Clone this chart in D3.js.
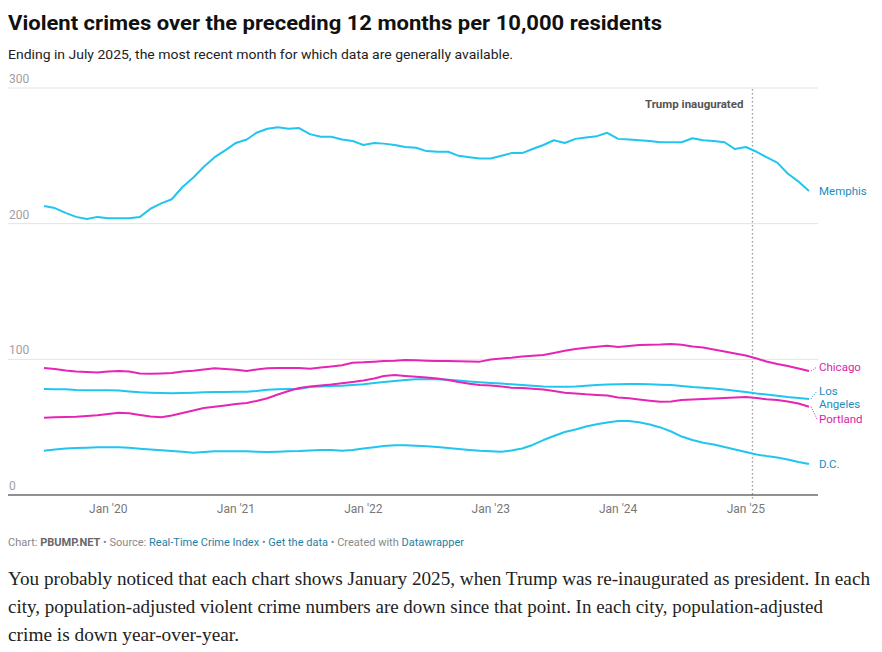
<!DOCTYPE html>
<html>
<head>
<meta charset="utf-8">
<script src="https://cdn.jsdelivr.net/npm/d3@7"></script>
<style>
  body { margin: 0; background: #fff; }
  svg { display: block; }
</style>
</head>
<body>
<svg id="plot" width="882" height="652"></svg>
<script>
// monthly, Jul 2019 .. Jul 2025
const months = d3.timeMonth.range(new Date(2019, 6, 1), new Date(2025, 7, 1));

const memphis = [213, 211.5, 208, 205, 203.5, 205, 204, 204, 204, 205, 211, 215, 218, 227, 234, 242, 249, 254, 259.5, 262, 267, 270, 271, 270, 270.5,
  266, 264, 264, 262, 261, 258, 259.5, 259, 258, 256.5, 256, 253.5, 253, 253, 250, 249, 248, 248, 250, 252, 252, 255, 258, 261.5, 259.5, 262.5, 263.5, 264.5, 267, 262.5,
  262, 261.5, 261, 260, 260, 260, 263, 261.5, 261, 260, 255, 256.5, 253, 249, 245, 237, 231, 224];
const chicago = [93.6, 92.9, 91.8, 91, 90.7, 90.3, 91, 91.4, 91, 89.6, 89.4, 89.6, 89.9, 91, 91.6, 92.5, 93.4, 92.9, 92.4, 91.4, 92.5, 93.4, 93.6, 93.6, 93.6,
  93.1, 94, 94.7, 95.6, 97.5, 97.8, 98.3, 98.8, 99, 99.5, 99.3, 99, 98.8, 98.8, 98.6, 98.4, 98.3, 99.9, 100.6, 101.2, 102.1, 102.7, 103.2, 104.7, 106.4, 107.6, 108.5, 109.3, 110, 109.1,
  109.8, 110.6, 110.8, 110.9, 111.3, 110.8, 109.5, 108.7, 107.2, 105.8, 104.3, 102.8, 100.6, 98.4, 96.6, 95.1, 93.2, 91.4];
const losAngeles = [78.1, 77.9, 77.9, 77.4, 77.2, 77.2, 77.2, 77, 76.3, 75.7, 75.4, 75.2, 75, 75.2, 75.4, 75.7, 75.9, 75.9, 76.1, 76.1, 76.7, 77.6, 77.9, 78.1, 78.1,
  79.6, 80, 80.3, 80.6, 81.1, 81.6, 82.6, 83.3, 84, 84.8, 85.3, 85.3, 85.3, 85, 84.4, 83.7, 83.1, 82.6, 82.2, 81.6, 81.1, 80.6, 80, 79.8, 79.8, 80, 80.5, 81.1, 81.4, 81.6,
  81.8, 81.8, 81.6, 81.3, 81.1, 80.3, 79.6, 79.1, 78.5, 77.8, 76.9, 75.9, 74.8, 74.1, 73.2, 72.2, 71.5, 70.8];
const portland = [57, 57.3, 57.5, 57.7, 58.2, 58.7, 59.7, 60.6, 60.2, 59, 57.9, 57.3, 58.6, 60.4, 62.3, 64.1, 65.1, 66, 67.1, 67.8, 69.3, 71.3, 74.1, 76.7, 78.9,
  80, 80.7, 81.4, 82.4, 83.3, 84.4, 85.9, 87.7, 88.4, 87.8, 87.2, 86.6, 85.9, 84.8, 83.3, 82, 81.1, 80.7, 80, 79.1, 78.9, 78.3, 77.8, 76.7, 75.4, 74.8, 74.2, 73.8, 73.3, 71.9,
  71.3, 70.4, 69.5, 68.8, 68.9, 70, 70.4, 70.8, 71.1, 71.5, 71.9, 72.2, 71.5, 70.5, 70, 68.9, 67.4, 65.1];
const dc = [32.7, 33.5, 34.3, 34.6, 34.9, 35.2, 35.2, 35.2, 34.8, 34.1, 33.5, 32.9, 32.4, 31.9, 31.2, 31.7, 32.2, 32.2, 32.2, 32.2, 31.9, 31.7, 31.9, 32.2, 32.4,
  32.8, 33.2, 33.1, 32.7, 33.2, 34.3, 35.2, 36.1, 36.6, 36.6, 36.3, 35.9, 35.4, 34.6, 33.9, 33.2, 32.6, 32.2, 31.9, 32.8, 34.3, 36.9, 40.5, 43.5, 46.4, 48.3, 50.5, 52.1, 53.4, 54.5,
  54.5, 53.6, 52, 49.8, 46.8, 43.1, 40.5, 38.5, 37.2, 35.4, 33.5, 31.7, 29.9, 28.7, 27.6, 26.2, 24.3, 22.8];

const yTicks = [0, 100, 200, 300];
const xTicks = [2020, 2021, 2022, 2023, 2024, 2025];
const inauguration = new Date(2025, 0, 20);

const cyan = '#20c5f0';
const pink = '#e625b5';
const cyanText = '#1b8dbc';
const pinkText = '#d81ea6';

const series = [
  { name: ['Memphis'], values: memphis, color: cyan, text: cyanText, labelY: 191 },
  { name: ['Chicago'], values: chicago, color: pink, text: pinkText, labelY: 367 },
  { name: ['Los', 'Angeles'], values: losAngeles, color: cyan, text: cyanText, labelY: 391 },
  { name: ['Portland'], values: portland, color: pink, text: pinkText, labelY: 419 },
  { name: ['D.C.'], values: dc, color: cyan, text: cyanText, labelY: 464 }
];

const plot = d3.select('#plot');
const font = 'Roboto, "Noto Sans", sans-serif';

const gridLeft = 8, gridRight = 818;

const xScale = d3.scaleTime()
  .domain([months[0], months[months.length - 1]])
  .range([44, 809]);

const yScale = d3.scaleLinear()
  .domain([0, 300])
  .range([495, 88]);

function fit(sel, w) {
  const len = sel.node().getComputedTextLength();
  if (Math.abs(len - w) > 2) sel.attr('textLength', w).attr('lengthAdjust', 'spacingAndGlyphs');
}

// titles
plot.append('text')
  .attr('x', 8).attr('y', 30)
  .style('font-family', font).style('font-weight', 'bold').style('font-size', '21px')
  .attr('fill', '#111')
  .text('Violent crimes over the preceding 12 months per 10,000 residents')
  .call(fit, 654);

plot.append('text')
  .attr('x', 8).attr('y', 59)
  .style('font-family', font).style('font-size', '13.5px')
  .attr('fill', '#222')
  .text('Ending in July 2025, the most recent month for which data are generally available.')
  .call(fit, 505);

// grid + y labels
const yAxis = plot.append('g').classed('yAxis', true);
yAxis.selectAll('line')
  .data(yTicks.filter(d => d > 0))
  .join('line')
  .attr('x1', gridLeft).attr('x2', gridRight)
  .attr('y1', d => yScale(d)).attr('y2', d => yScale(d))
  .attr('stroke', '#e3e3e3').attr('stroke-width', 1);

yAxis.selectAll('text')
  .data(yTicks)
  .join('text')
  .attr('x', 9).attr('y', d => yScale(d) - 5)
  .style('font-family', font).style('font-size', '12px')
  .attr('fill', '#a0a0a0')
  .text(d => d);

// inauguration marker
plot.append('line')
  .attr('x1', xScale(inauguration)).attr('x2', xScale(inauguration))
  .attr('y1', 89).attr('y2', 499)
  .attr('stroke', '#999').attr('stroke-width', 1.3)
  .attr('stroke-dasharray', '1.5,2.5');

plot.append('text')
  .attr('x', xScale(inauguration) - 9).attr('y', 108)
  .attr('text-anchor', 'end')
  .style('font-family', font).style('font-weight', 'bold').style('font-size', '11.5px')
  .attr('fill', '#555')
  .text('Trump inaugurated');

// x axis
plot.append('line')
  .attr('x1', gridLeft).attr('x2', gridRight)
  .attr('y1', yScale(0)).attr('y2', yScale(0))
  .attr('stroke', '#222').attr('stroke-width', 1.2);

plot.append('g')
  .classed('xAxis', true)
  .selectAll('text')
  .data(xTicks)
  .join('text')
  .attr('x', d => xScale(new Date(d, 0, 1)))
  .attr('y', 513)
  .attr('text-anchor', 'middle')
  .style('font-family', font).style('font-size', '12px')
  .attr('fill', '#777')
  .text(d => `Jan '${String(d).slice(2)}`);

// lines
const line = d3.line()
  .x((d, i) => xScale(months[i]))
  .y(d => yScale(d));

const lines = plot.append('g');
series.forEach(s => {
  lines.append('path')
    .attr('d', line(s.values))
    .attr('fill', 'none')
    .attr('stroke', s.color)
    .attr('stroke-width', 2)
    .attr('stroke-linejoin', 'round');
});

// labels with small connectors
const lastX = xScale(months[months.length - 1]);
series.forEach(s => {
  const endY = yScale(s.values[s.values.length - 1]);
  if (Math.abs(endY - s.labelY) > 3) {
    plot.append('line')
      .attr('x1', lastX + 2).attr('x2', lastX + 8)
      .attr('y1', endY).attr('y2', s.labelY)
      .attr('stroke', s.text).attr('stroke-width', 1)
      .attr('stroke-dasharray', '1,1.5');
  }
  const t = plot.append('text')
    .attr('x', lastX + 10).attr('y', s.labelY + 4)
    .style('font-family', font).style('font-size', '11.5px')
    .attr('fill', s.text);
  s.name.forEach((n, i) => {
    t.append('tspan').attr('x', lastX + 10).attr('dy', i === 0 ? 0 : 13).text(n);
  });
});

// footer
const foot = plot.append('text')
  .attr('x', 8).attr('y', 546)
  .style('font-family', font).style('font-size', '10.5px')
  .attr('fill', '#888');
foot.append('tspan').text('Chart: ');
foot.append('tspan').style('font-weight', 'bold').attr('fill', '#666').text('PBUMP.NET');
foot.append('tspan').text(' • Source: ');
foot.append('tspan').attr('fill', '#1d7fa6').text('Real-Time Crime Index');
foot.append('tspan').text(' • ');
foot.append('tspan').attr('fill', '#1d7fa6').text('Get the data');
foot.append('tspan').text(' • Created with ');
foot.append('tspan').attr('fill', '#1d7fa6').text('Datawrapper');
fit(foot, 456);

// body text under the chart
const bodyLines = [
  ['You probably noticed that each chart shows January 2025, when Trump was re-inaugurated as president. In each', 862],
  ['city, population-adjusted violent crime numbers are down since that point. In each city, population-adjusted', 815],
  ['crime is down year-over-year.', 231]
];
bodyLines.forEach(([txt, w], i) => {
  plot.append('text')
    .attr('x', 8).attr('y', 585 + i * 28)
    .style('font-family', '"Liberation Serif", "DejaVu Serif", serif')
    .style('font-size', '18px')
    .attr('fill', '#222')
    .text(txt)
    .call(fit, w);
});
</script>
</body>
</html>
